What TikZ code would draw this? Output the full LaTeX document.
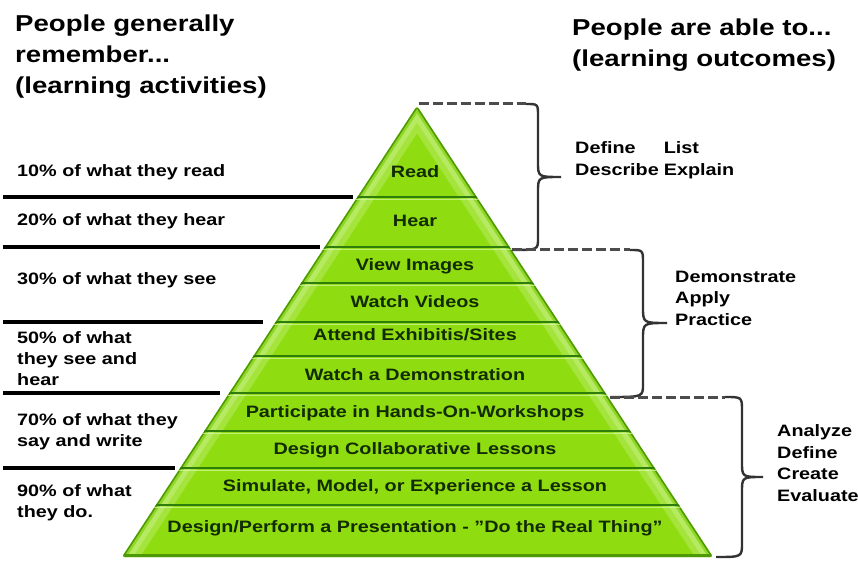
\documentclass[tikz,border=0pt]{standalone}
\usepackage{fontspec}
\setmainfont{Liberation Sans}[FakeStretch=1.2]

\definecolor{pyrgreen}{HTML}{8FDC10}
\definecolor{pyredge}{HTML}{4E9A06}
\definecolor{pyrline}{HTML}{2F7D0A}
\definecolor{pyrlight}{HTML}{D8F7A8}
\definecolor{pyrtext}{HTML}{122B02}

\tikzset{
    head/.style={anchor=west, align=left, inner sep=0pt, font=\bfseries\fontsize{23}{31}\selectfont},
    act/.style={anchor=west, align=left, inner sep=0pt, font=\bfseries\fontsize{16.5}{21}\selectfont},
    lvl/.style={inner sep=0pt, text=pyrtext, font=\bfseries\fontsize{16.5}{20}\selectfont},
    outc/.style={anchor=west, align=left, inner sep=0pt, font=\bfseries\fontsize{16.5}{21.5}\selectfont},
    dashline/.style={black!70, line width=3pt, dash pattern=on 10pt off 4pt},
    curly/.style={black!80, line width=2.4pt}
}

\begin{document}
\begin{tikzpicture}[x=1pt, y=1pt]
    \useasboundingbox (0,0) rectangle (858,560);

    \node [head] (hact) at (15,503) {People generally\\remember...\\(learning activities)};
    \node [head] (hout) at (572,515) {People are able to...\\(learning outcomes)};

    % rules under the activities
    \foreach \y/\x in {363/353, 313/320, 238/263, 167/220, 92/175}
        \draw [line width=3.5pt] (3,\y) -- (\x,\y);

    \node [act] (a10) at (17,388) {10\% of what they read};
    \node [act] (a20) at (17,339) {20\% of what they hear};
    \node [act] (a30) at (17,280) {30\% of what they see};
    \node [act] (a50) at (17,201) {50\% of what\\they see and\\hear};
    \node [act] (a70) at (17,128) {70\% of what they\\say and write};
    \node [act] (a90) at (17,57) {90\% of what\\they do.};

    % pyramid
    \coordinate (apex) at (417,454);
    \coordinate (bl) at (122,3);
    \coordinate (br) at (713,3);
    \begin{scope}
        \clip [rounded corners=3pt] (bl) -- (apex) -- (br) -- cycle;
        \fill [pyrgreen] (0,0) rectangle (858,560);
        \draw [pyrlight, opacity=0.3, line width=30pt] (bl) -- (apex) -- (br);
        \draw [pyrlight, opacity=0.35, line width=18pt] (bl) -- (apex) -- (br);
        \draw [pyrgreen!80!pyredge, opacity=0.7, line width=8pt] (bl) -- (apex) -- (br);
        \draw [pyredge, line width=3pt] (bl) -- (apex) -- (br);
        \foreach \y in {363,313,277,238,204,167,129,92,55} {
            \draw [pyrline, line width=2.5pt] (0,\y) -- (858,\y);
            \draw [pyrlight, opacity=0.7, line width=1pt] (0,\y-2.5) -- (858,\y-2.5);
        }
        \draw [pyredge, line width=6pt] (bl) -- (br);
    \end{scope}

    \node [lvl] (read) at (415,388) {Read};
    \node [lvl] (hear) at (415,339) {Hear};
    \node [lvl] (view) at (415,294) {View Images};
    \node [lvl] (video) at (415,258) {Watch Videos};
    \node [lvl] (site) at (415,225) {Attend Exhibitis/Sites};
    \node [lvl] (demo) at (415,185) {Watch a Demonstration};
    \node [lvl] (work) at (415,147) {Participate in Hands-On-Workshops};
    \node [lvl] (collab) at (415,110) {Design Collaborative Lessons};
    \node [lvl] (simul) at (415,73) {Simulate, Model, or Experience a Lesson};
    \node [lvl] (real) at (415,32) {Design/Perform a Presentation - "Do the Real Thing"};

    % braces
    \coordinate (b1) at (526,456);
    \coordinate (b2) at (630,310);
    \coordinate (b3) at (725,163);
    \draw [dashline] (419,456) -- (b1);
    \draw [curly] (b1) .. controls (538,456) .. (538,444) -- (538,398) .. controls (538,383) .. (561,383)
        .. controls (538,383) .. (538,368) -- (538,322) .. controls (538,310) .. (512,310);
    \draw [dashline] (512,310) -- (b2);
    \draw [curly] (b2) .. controls (643,310) .. (643,297) -- (643,253) .. controls (643,237) .. (667,237)
        .. controls (643,237) .. (643,221) -- (643,176) .. controls (643,163) .. (610,163);
    \draw [dashline] (610,163) -- (b3);
    \draw [curly] (b3) .. controls (742,163) .. (742,149) -- (742,98) .. controls (742,83) .. (763,83)
        .. controls (742,83) .. (742,68) -- (742,17) .. controls (742,3) .. (716,3);

    \node [outc] (o1) at (575,400) {\begin{tabular}{@{}l@{\hspace{5pt}}l@{}}Define & List\\Describe & Explain\end{tabular}};
    \node [outc] (o2) at (675,262) {Demonstrate\\Apply\\Practice};
    \node [outc] (o3) at (777,97) {Analyze\\Define\\Create\\Evaluate};
\end{tikzpicture}
\end{document}
